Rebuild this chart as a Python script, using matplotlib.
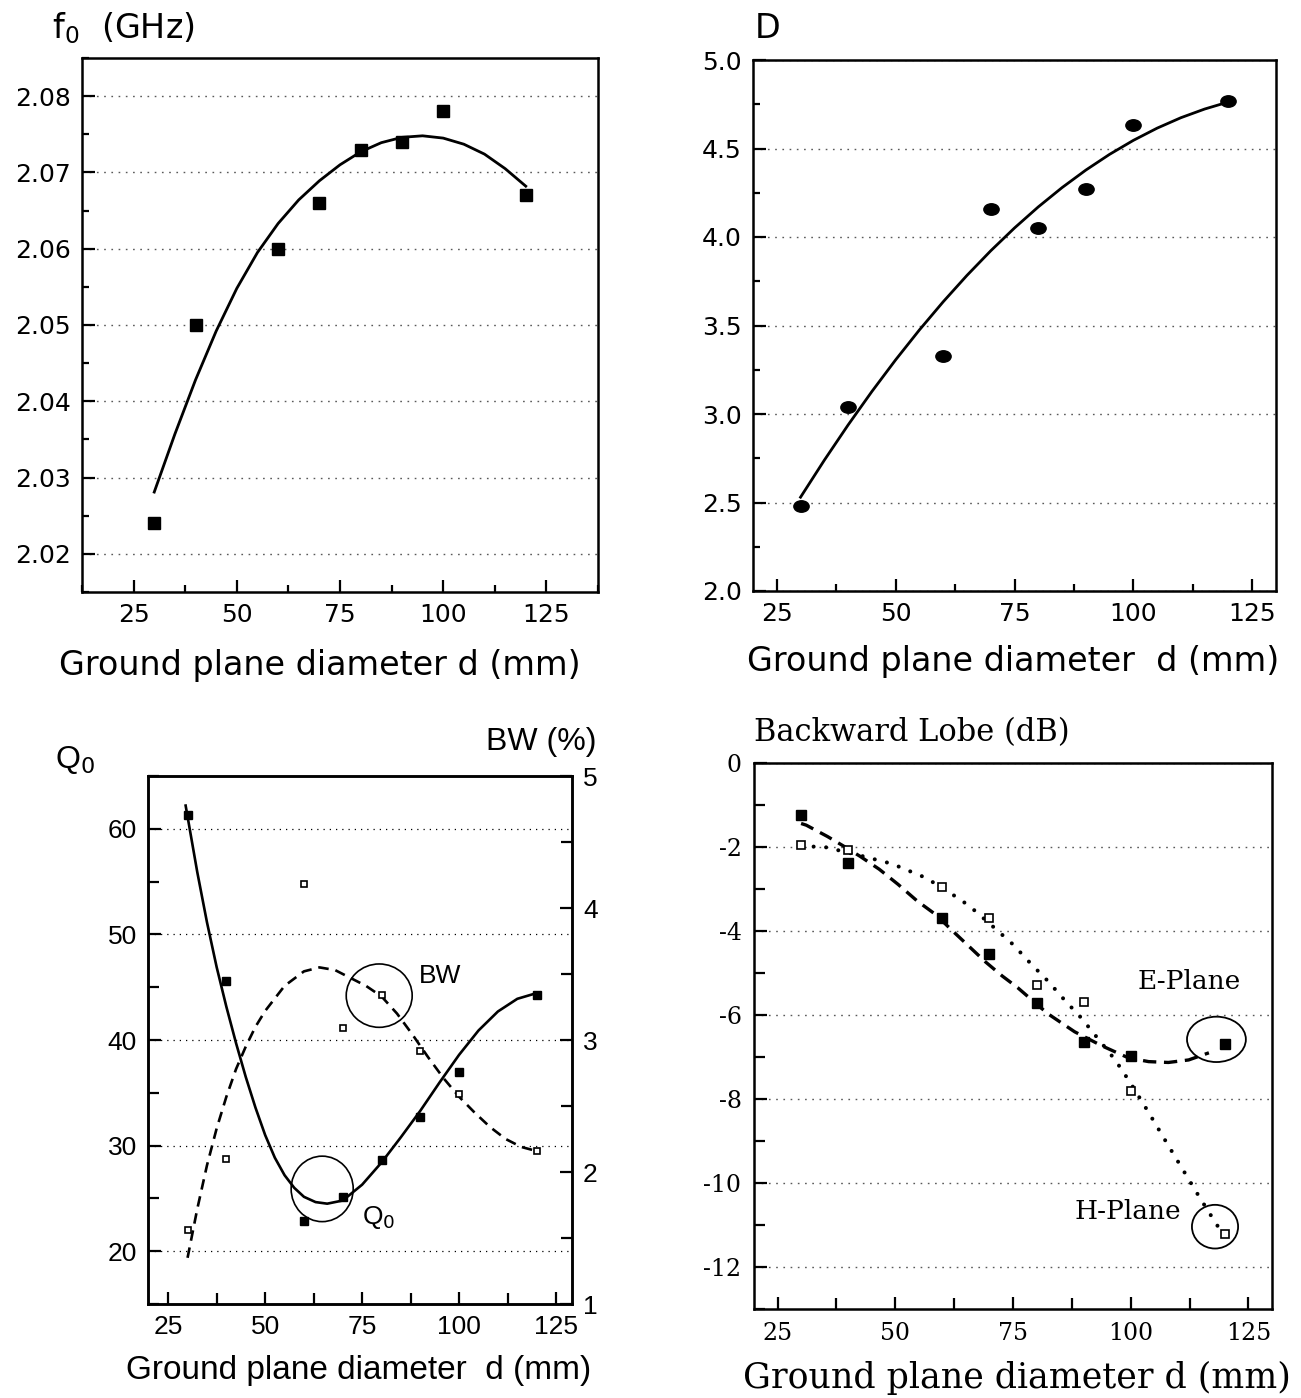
import numpy as np
import matplotlib
matplotlib.use('Agg')
import matplotlib.pyplot as plt
from matplotlib.patches import Ellipse
from matplotlib.ticker import MultipleLocator
from matplotlib.path import Path
from matplotlib.transforms import Affine2D

plt.rcParams['axes.unicode_minus'] = False

# --- datos ---
d = [30, 40, 60, 70, 80, 90, 100, 120]

# (a) frecuencia de resonancia
f0 = [2.024, 2.050, 2.060, 2.066, 2.073, 2.074, 2.078, 2.067]
f0_fit_d = [30, 35, 40, 45, 50, 55, 60, 65, 70, 75, 80, 85, 90, 95, 100, 105, 110, 115, 120]
f0_fit = [2.0281, 2.0357, 2.0428, 2.0492, 2.0548, 2.0595, 2.0633, 2.0664, 2.0689, 2.0710,
          2.0727, 2.0739, 2.0746, 2.0748, 2.0745, 2.0737, 2.0724, 2.0705, 2.0682]

# (b) directividad
D = [2.48, 3.04, 3.33, 4.16, 4.05, 4.27, 4.63, 4.77]
D_fit_d = [30, 35, 40, 45, 50, 55, 60, 65, 70, 75, 80, 85, 90, 95, 100, 105, 110, 115, 120]
D_fit = [2.530, 2.739, 2.938, 3.127, 3.306, 3.475, 3.634, 3.783, 3.922, 4.051, 4.170, 4.279,
         4.378, 4.467, 4.546, 4.615, 4.674, 4.723, 4.763]

# (c) Q0 y ancho de banda
q0 = [61.3, 45.6, 22.9, 25.1, 28.6, 32.7, 37.0, 44.3]
bw = [1.56, 2.10, 4.18, 3.09, 3.34, 2.92, 2.59, 2.16]
q0_fit_d = [29.5, 32.5, 35, 37.5, 40, 42.5, 45, 47.5, 50, 52.5, 55, 57.5, 60, 63, 66, 70, 75,
            80, 85, 90, 95, 100, 105, 110, 115, 119.6]
q0_fit = [62.2, 55.9, 51.15, 46.9, 43.15, 39.7, 36.5, 33.6, 31.0, 28.85, 27.2, 26.0, 25.15,
          24.65, 24.5, 24.8, 26.3, 28.4, 30.8, 33.3, 36.0, 38.6, 40.9, 42.7, 43.9, 44.4]
bw_fit_d = [30, 32.5, 35, 37.5, 40, 42.5, 45, 47.5, 50, 55, 60, 64, 68, 72, 76, 80, 84, 88,
            92, 96, 100, 104, 108, 112, 116, 119.8]
bw_fit = [1.35, 1.72, 2.05, 2.33, 2.57, 2.78, 2.95, 3.10, 3.22, 3.41, 3.52, 3.55, 3.53, 3.47,
          3.41, 3.33, 3.20, 3.04, 2.87, 2.71, 2.57, 2.45, 2.34, 2.25, 2.19, 2.16]

# (d) lobulo trasero
e_plane = [-1.23, -2.37, -3.68, -4.55, -5.72, -6.65, -6.98, -6.68]
h_plane = [-1.96, -2.07, -2.96, -3.68, -5.29, -5.70, -7.80, -11.21]
e_fit_d = [30, 31.1, 35.6, 38.9, 42.5, 46.6, 50.6, 54.6, 58.6, 62.0, 65.6, 69.1, 72.7, 76.0,
           79.8, 82.4, 88.1, 93.8, 99.5, 103.8, 108.0, 112.3, 116.6]
e_fit = [-1.44, -1.48, -1.75, -1.97, -2.22, -2.53, -2.89, -3.28, -3.61, -3.98, -4.36, -4.73,
         -5.07, -5.35, -5.72, -5.97, -6.40, -6.73, -7.02, -7.11, -7.13, -7.07, -6.90]
h_fit_d = [30, 35, 42.1, 49.3, 56.4, 61.1, 65.7, 70.4, 75.0, 78.8, 82.4, 86.0, 89.5, 93.1,
           96.7, 99.9, 103.8, 107.3, 110.9, 114.5, 117.3, 119.4]
h_fit = [-1.98, -2.00, -2.19, -2.40, -2.73, -3.05, -3.40, -3.86, -4.32, -4.78, -5.19, -5.65,
         -6.07, -6.57, -7.07, -7.61, -8.32, -8.98, -9.65, -10.32, -10.82, -11.19]

W, H = 1301, 1398
fig = plt.figure(figsize=(W / 100, H / 100), dpi=100)


def caja(ax, lw=1.8):
    for s in ax.spines.values():
        s.set_linewidth(lw)
    ax.tick_params(which='both', direction='in', width=1.6, top=False, right=False)
    ax.tick_params(which='major', length=9)
    ax.tick_params(which='minor', length=5)


grid_kw = dict(linestyle=(0, (1.2, 4)), color='0.35', lw=1.0)

# ---------- (a) f0 ----------
ax1 = fig.add_axes([82 / W, 1 - 592 / H, 516 / W, 534 / H])
ax1.plot(f0_fit_d, f0_fit, color='k', lw=2.0)
ax1.plot(d, f0, 's', color='k', ms=8.5)
ax1.set_xlim(12.5, 137.5)
ax1.set_ylim(2.015, 2.085)
ax1.xaxis.set_major_locator(MultipleLocator(25))
ax1.xaxis.set_minor_locator(MultipleLocator(12.5))
ax1.yaxis.set_major_locator(MultipleLocator(0.01))
ax1.yaxis.set_minor_locator(MultipleLocator(0.005))
ax1.yaxis.set_major_formatter(matplotlib.ticker.FormatStrFormatter('%.2f'))
caja(ax1)
ax1.tick_params(labelsize=18, pad=8)
ax1.yaxis.grid(True, **grid_kw)
fig.text(52 / W, 1 - 28 / H, r'f$_0$  (GHz)', fontsize=24, va='center')
fig.text(320 / W, 1 - 665 / H, 'Ground plane diameter d (mm)', fontsize=24,
         ha='center', va='center')

# ---------- (b) D ----------
ax2 = fig.add_axes([753 / W, 1 - 591 / H, 523 / W, 531 / H])
elipse = Path.unit_circle().transformed(Affine2D().scale(1.0, 0.75))
ax2.plot(D_fit_d, D_fit, color='k', lw=2.0)
ax2.plot(d, D, linestyle='none', marker=elipse, color='k', ms=11)
ax2.set_xlim(20, 130)
ax2.set_ylim(2.0, 5.0)
ax2.xaxis.set_major_locator(MultipleLocator(25))
ax2.xaxis.set_minor_locator(MultipleLocator(12.5))
ax2.yaxis.set_major_locator(MultipleLocator(0.5))
ax2.yaxis.set_minor_locator(MultipleLocator(0.25))
ax2.yaxis.set_major_formatter(matplotlib.ticker.FormatStrFormatter('%.1f'))
caja(ax2)
ax2.tick_params(labelsize=18, pad=8)
ax2.yaxis.grid(True, **grid_kw)
fig.text(755 / W, 1 - 28 / H, 'D', fontsize=24, va='center')
fig.text(1013 / W, 1 - 662 / H, 'Ground plane diameter  d (mm)', fontsize=24,
         ha='center', va='center')

# ---------- (c) Q0 / BW ----------
arial = 'Liberation Sans'
ax3 = fig.add_axes([148 / W, 1 - 1304 / H, 424 / W, 528 / H])
ax3r = ax3.twinx()
ax3.plot(q0_fit_d, q0_fit, color='k', lw=1.9)
ax3.plot(d, q0, 's', color='k', ms=5.5)
ax3r.plot(bw_fit_d, bw_fit, color='k', lw=1.9, dashes=(4, 2.6))
ax3r.plot(d, bw, 's', mfc='white', mec='k', mew=1.2, ms=5)
ax3.set_xlim(19.8, 129.1)
ax3.set_ylim(15, 65)
ax3r.set_ylim(1, 5)
ax3.xaxis.set_major_locator(MultipleLocator(25))
ax3.xaxis.set_minor_locator(MultipleLocator(12.5))
ax3.yaxis.set_major_locator(MultipleLocator(10))
ax3.yaxis.set_minor_locator(MultipleLocator(5))
ax3r.yaxis.set_major_locator(MultipleLocator(1))
ax3r.yaxis.set_minor_locator(MultipleLocator(0.5))
caja(ax3)
caja(ax3r)
ax3r.tick_params(which='both', left=False, right=True, labelright=True, labelleft=False)
ax3.tick_params(which='minor', length=8)
ax3r.tick_params(which='minor', length=8)
for a in (ax3, ax3r):
    a.tick_params(labelsize=19, pad=8)
    for t in a.get_xticklabels() + a.get_yticklabels():
        t.set_family(arial)
ax3.yaxis.grid(True, linestyle=(0, (1, 4)), color='k', lw=0.9)
ax3.set_axisbelow(True)
ax3.add_patch(Ellipse((79.4, 44.2), 17.0, 6.0, fill=False, ec='k', lw=1.2))
ax3.add_patch(Ellipse((64.7, 25.9), 16.0, 6.2, fill=False, ec='k', lw=1.2))
ax3.text(89.5, 46.1, 'BW', fontsize=19, family=arial, va='center')
ax3.text(75.0, 23.2, r'Q$_0$', fontsize=19, family=arial, va='center')
fig.text(55 / W, 1 - 760 / H, r'Q$_0$', fontsize=23, family=arial, va='center')
fig.text(597 / W, 1 - 742 / H, 'BW (%)', fontsize=23, family=arial, va='center', ha='right')
fig.text(359 / W, 1 - 1370 / H, 'Ground plane diameter  d (mm)', fontsize=24,
         family=arial, ha='center', va='center')

# ---------- (d) lobulo trasero ----------
serif = 'DejaVu Serif'
ax4 = fig.add_axes([754 / W, 1 - 1309 / H, 518 / W, 546 / H])
ax4.plot(e_fit_d, e_fit, color='k', lw=2.4, dashes=(4, 2.3))
ax4.plot(h_fit_d, h_fit, color='k', lw=2.9, dashes=(0.01, 3.1), dash_capstyle='round')
ax4.plot(d, e_plane, 's', color='k', ms=6.5)
ax4.plot(d, h_plane, 's', mfc='white', mec='k', mew=1.2, ms=6)
ax4.set_xlim(20, 130)
ax4.set_ylim(-13, 0)
ax4.xaxis.set_major_locator(MultipleLocator(25))
ax4.xaxis.set_minor_locator(MultipleLocator(12.5))
ax4.yaxis.set_major_locator(MultipleLocator(2))
ax4.yaxis.set_minor_locator(MultipleLocator(1))
caja(ax4)
ax4.tick_params(which='minor', length=8)
ax4.tick_params(labelsize=17, pad=9)
for t in ax4.get_xticklabels() + ax4.get_yticklabels():
    t.set_family(serif)
ax4.yaxis.grid(True, **grid_kw)
ax4.add_patch(Ellipse((118.2, -6.58), 12.5, 1.08, fill=False, ec='k', lw=1.3))
ax4.add_patch(Ellipse((117.9, -11.04), 9.8, 1.04, fill=False, ec='k', lw=1.3))
ax4.text(101.5, -5.2, 'E-Plane', fontsize=19, family=serif, va='center')
ax4.text(88.0, -10.68, 'H-Plane', fontsize=19, family=serif, va='center')
fig.text(754 / W, 1 - 733 / H, 'Backward Lobe (dB)', fontsize=22, family=serif, va='center')
fig.text(1017 / W, 1 - 1378 / H, 'Ground plane diameter d (mm)', fontsize=25,
         family=serif, ha='center', va='center')

fig.savefig('out.png', dpi=100)
